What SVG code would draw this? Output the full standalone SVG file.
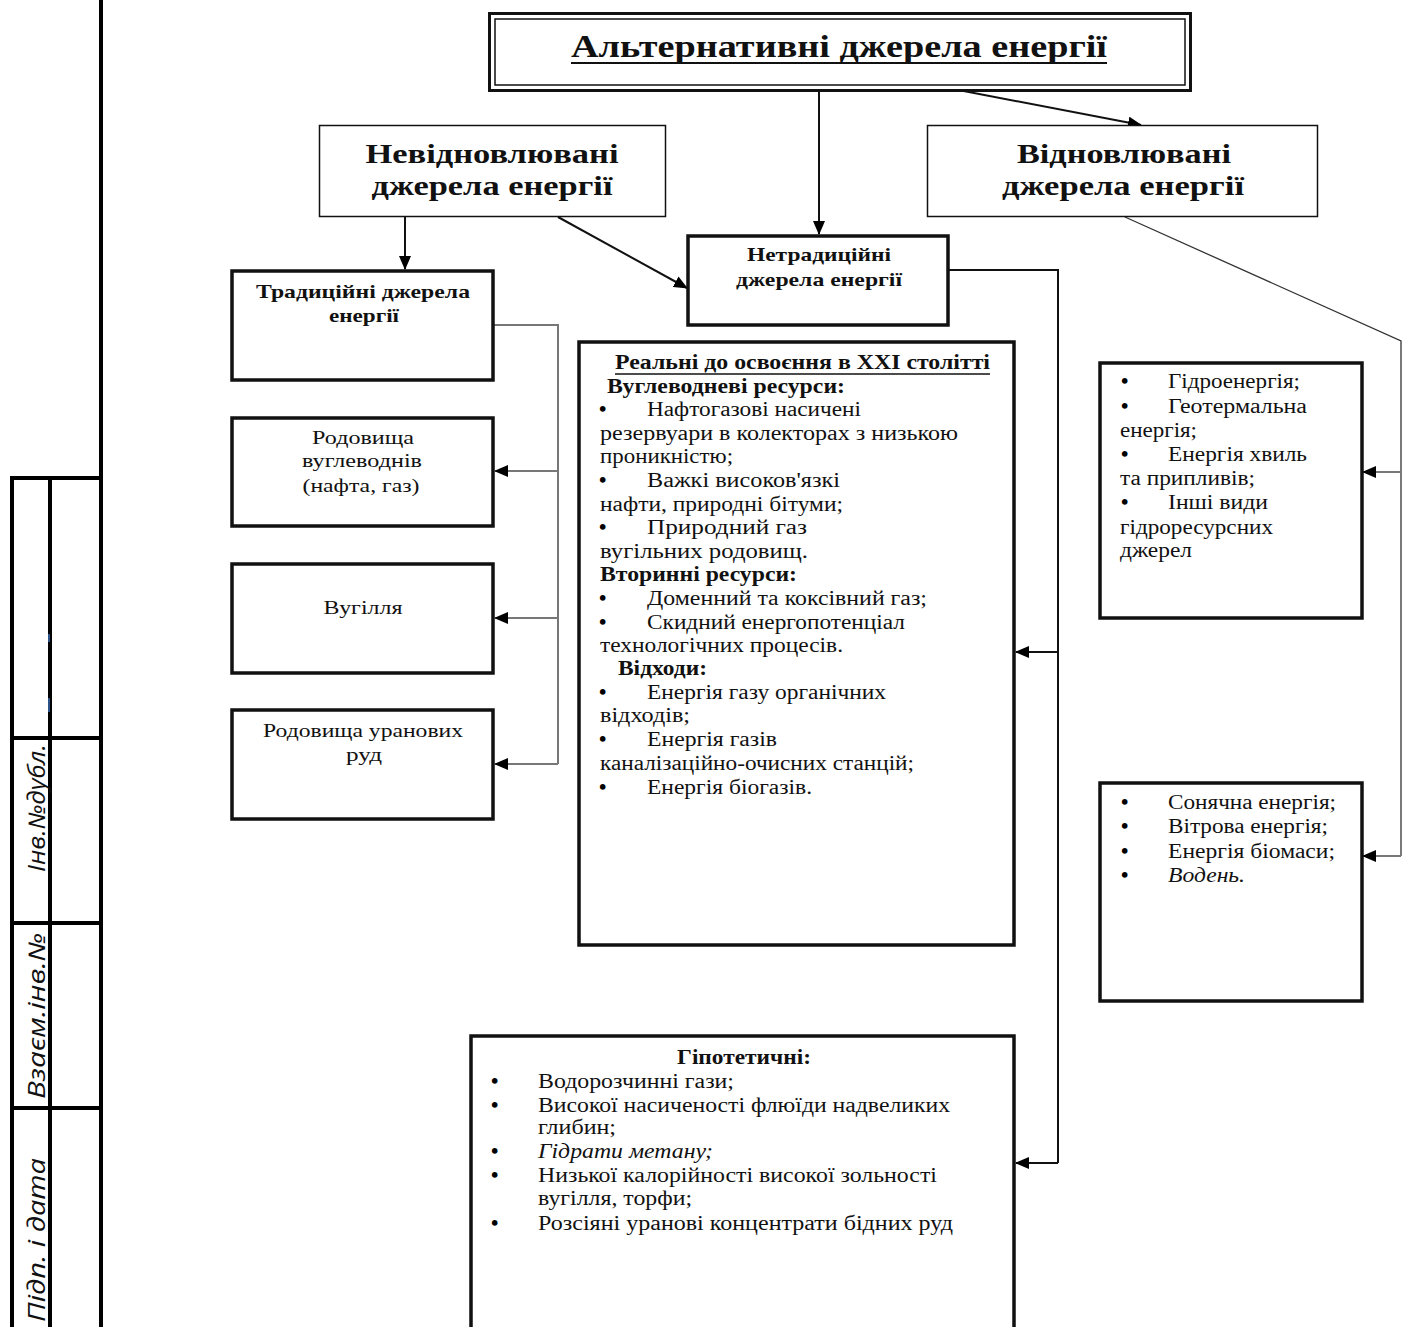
<svg xmlns="http://www.w3.org/2000/svg" width="1402" height="1327" viewBox="0 0 1402 1327">
<defs>
<marker id="ah" markerUnits="userSpaceOnUse" markerWidth="14" markerHeight="12" refX="13" refY="6" orient="auto">
<path d="M0,0 L14,6 L0,12 Z" fill="#000"/>
</marker>
<style>
.t{font-family:"Liberation Serif","Times New Roman",serif;fill:#111;}
.b{font-weight:bold;}
.i{font-style:italic;}
.bu{font-family:"Liberation Serif","Times New Roman",serif;font-size:21px;font-weight:bold;fill:#000;}
.thin{fill:#fff;stroke:#111;stroke-width:1.5;}
.thick{fill:#fff;stroke:#111;stroke-width:3.5;}
.con{fill:none;stroke:#111;stroke-width:2;}
.gray{fill:none;stroke:#777;stroke-width:2;}
.stamp{font-family:"Open Sans","DejaVu Sans",sans-serif;font-style:italic;font-size:23px;fill:#111;}
</style>
</defs>
<rect x="0" y="0" width="1402" height="1327" fill="#fff"/>

<g id="stamp">
<line x1="101" y1="0" x2="101" y2="1327" stroke="#000" stroke-width="4"/>
<rect x="12" y="478" width="89" height="860" fill="none" stroke="#000" stroke-width="4"/>
<line x1="50" y1="478" x2="50" y2="1327" stroke="#000" stroke-width="4"/>
<line x1="12" y1="738" x2="101" y2="738" stroke="#000" stroke-width="4"/>
<line x1="12" y1="923" x2="101" y2="923" stroke="#000" stroke-width="4"/>
<line x1="12" y1="1108" x2="101" y2="1108" stroke="#000" stroke-width="4"/>
<line x1="49" y1="634" x2="49" y2="642" stroke="#3a6fb5" stroke-width="1.5"/>
<line x1="49" y1="698" x2="49" y2="712" stroke="#3a6fb5" stroke-width="1.5"/>
<text class="stamp" transform="translate(45,808) rotate(-90)" text-anchor="middle" textLength="128" lengthAdjust="spacingAndGlyphs">Інв.№дубл.</text>
<text class="stamp" transform="translate(45,1016) rotate(-90)" text-anchor="middle" textLength="166" lengthAdjust="spacingAndGlyphs">Взаєм.інв.№</text>
<text class="stamp" transform="translate(45,1240) rotate(-90)" text-anchor="middle" textLength="164" lengthAdjust="spacingAndGlyphs">Підп. і дата</text>
</g>

<g id="connectors">
<line class="con" x1="819" y1="88" x2="819" y2="234" marker-end="url(#ah)"/>
<line class="con" x1="948" y1="88" x2="1141" y2="125" marker-end="url(#ah)"/>
<line class="con" x1="405" y1="216" x2="405" y2="269" marker-end="url(#ah)"/>
<line class="con" x1="558" y1="217" x2="687" y2="288" marker-end="url(#ah)"/>
<polyline class="con" points="949,270 1058,270 1058,1163"/>
<line class="con" x1="1058" y1="652" x2="1016" y2="652" marker-end="url(#ah)"/>
<line class="con" x1="1058" y1="1163" x2="1016" y2="1163" marker-end="url(#ah)"/>
<polyline class="gray" points="494,325 558,325 558,764"/>
<line class="gray" x1="558" y1="471" x2="495" y2="471" marker-end="url(#ah)"/>
<line class="gray" x1="558" y1="618" x2="495" y2="618" marker-end="url(#ah)"/>
<line class="gray" x1="558" y1="764" x2="495" y2="764" marker-end="url(#ah)"/>
<polyline fill="none" stroke="#333" stroke-width="1.3" points="1125,217 1401,341 1401,856"/>
<line class="gray" x1="1401" y1="472" x2="1363" y2="472" marker-end="url(#ah)" stroke="#444"/>
<line class="gray" x1="1401" y1="856" x2="1363" y2="856" marker-end="url(#ah)" stroke="#444"/>
</g>

<g id="title">
<rect x="489.5" y="13.5" width="701" height="77" fill="#fff" stroke="#111" stroke-width="3"/>
<rect x="495" y="19" width="690" height="66" fill="none" stroke="#111" stroke-width="1.5"/>
<text class="t b" x="839" y="57" font-size="31" text-anchor="middle" textLength="536" lengthAdjust="spacingAndGlyphs">Альтернативні джерела енергії</text>
<line x1="571" y1="63" x2="1107" y2="63" stroke="#111" stroke-width="2.2"/>
</g>

<g id="nonrenewable">
<rect class="thin" x="319.5" y="125.5" width="346" height="91"/>
<text class="t b" x="492" y="163" font-size="27" text-anchor="middle" textLength="253" lengthAdjust="spacingAndGlyphs">Невідновлювані</text>
<text class="t b" x="492" y="195" font-size="27" text-anchor="middle" textLength="241" lengthAdjust="spacingAndGlyphs">джерела енергії</text>
</g>

<g id="renewable">
<rect class="thin" x="927.5" y="125.5" width="390" height="91"/>
<text class="t b" x="1124" y="163" font-size="27" text-anchor="middle" textLength="214" lengthAdjust="spacingAndGlyphs">Відновлювані</text>
<text class="t b" x="1123" y="195" font-size="27" text-anchor="middle" textLength="242" lengthAdjust="spacingAndGlyphs">джерела енергії</text>
</g>

<g id="nontraditional">
<rect class="thick" x="688" y="236" width="260" height="89"/>
<text class="t b" x="819" y="261" font-size="19" text-anchor="middle" textLength="144" lengthAdjust="spacingAndGlyphs">Нетрадиційні</text>
<text class="t b" x="819" y="286" font-size="19" text-anchor="middle" textLength="166" lengthAdjust="spacingAndGlyphs">джерела енергії</text>
</g>

<g id="traditional">
<rect class="thick" x="232" y="271" width="261" height="109"/>
<text class="t b" x="363" y="298" font-size="19" text-anchor="middle" textLength="214" lengthAdjust="spacingAndGlyphs">Традиційні джерела</text>
<text class="t b" x="364" y="322" font-size="19" text-anchor="middle" textLength="70" lengthAdjust="spacingAndGlyphs">енергії</text>
</g>

<g id="hydrocarbons">
<rect class="thick" x="232" y="418" width="261" height="108"/>
<text class="t" x="363" y="444" font-size="19" text-anchor="middle" textLength="102" lengthAdjust="spacingAndGlyphs">Родовища</text>
<text class="t" x="362" y="467" font-size="19" text-anchor="middle" textLength="120" lengthAdjust="spacingAndGlyphs">вуглеводнів</text>
<text class="t" x="361" y="492" font-size="19" text-anchor="middle" textLength="117" lengthAdjust="spacingAndGlyphs">(нафта, газ)</text>
</g>

<g id="coal">
<rect class="thick" x="232" y="564" width="261" height="109"/>
<text class="t" x="363" y="614" font-size="19" text-anchor="middle" textLength="79" lengthAdjust="spacingAndGlyphs">Вугілля</text>
</g>

<g id="uranium">
<rect class="thick" x="232" y="710" width="261" height="109"/>
<text class="t" x="363" y="737" font-size="19" text-anchor="middle" textLength="200" lengthAdjust="spacingAndGlyphs">Родовища уранових</text>
<text class="t" x="364" y="761" font-size="19" text-anchor="middle" textLength="36" lengthAdjust="spacingAndGlyphs">руд</text>
</g>

<g id="real">
<rect class="thick" x="579" y="342" width="435" height="603"/>
<g class="t" font-size="20">
<text class="b" x="615" y="369" textLength="375" lengthAdjust="spacingAndGlyphs">Реальні до освоєння в ХХІ столітті</text>
<line x1="615" y1="374" x2="990" y2="374" stroke="#111" stroke-width="1.5"/>
<text class="b" x="607" y="393" textLength="238" lengthAdjust="spacingAndGlyphs">Вуглеводневі ресурси:</text>
<text class="bu" x="599" y="416">•</text>
<text x="647" y="416" textLength="214" lengthAdjust="spacingAndGlyphs">Нафтогазові насичені</text>
<text x="600" y="440" textLength="358" lengthAdjust="spacingAndGlyphs">резервуари в колекторах з низькою</text>
<text x="600" y="463" textLength="133" lengthAdjust="spacingAndGlyphs">проникністю;</text>
<text class="bu" x="599" y="487">•</text>
<text x="647" y="487" textLength="193" lengthAdjust="spacingAndGlyphs">Важкі високов'язкі</text>
<text x="600" y="511" textLength="243" lengthAdjust="spacingAndGlyphs">нафти, природні бітуми;</text>
<text class="bu" x="599" y="534">•</text>
<text x="647" y="534" textLength="160" lengthAdjust="spacingAndGlyphs">Природний   газ</text>
<text x="600" y="558" textLength="208" lengthAdjust="spacingAndGlyphs">вугільних  родовищ.</text>
<text class="b" x="600" y="581" textLength="197" lengthAdjust="spacingAndGlyphs">Вторинні ресурси:</text>
<text class="bu" x="599" y="605">•</text>
<text x="647" y="605" textLength="280" lengthAdjust="spacingAndGlyphs">Доменний  та коксівний газ;</text>
<text class="bu" x="599" y="629">•</text>
<text x="647" y="629" textLength="258" lengthAdjust="spacingAndGlyphs">Скидний  енергопотенціал</text>
<text x="600" y="652" textLength="243" lengthAdjust="spacingAndGlyphs">технологічних  процесів.</text>
<text class="b" x="618" y="675" textLength="89" lengthAdjust="spacingAndGlyphs">Відходи:</text>
<text class="bu" x="599" y="699">•</text>
<text x="647" y="699" textLength="239" lengthAdjust="spacingAndGlyphs">Енергія  газу органічних</text>
<text x="600" y="722" textLength="90" lengthAdjust="spacingAndGlyphs">відходів;</text>
<text class="bu" x="599" y="746">•</text>
<text x="647" y="746" textLength="130" lengthAdjust="spacingAndGlyphs">Енергія  газів</text>
<text x="600" y="770" textLength="314" lengthAdjust="spacingAndGlyphs">каналізаційно-очисних  станцій;</text>
<text class="bu" x="599" y="794">•</text>
<text x="647" y="794" textLength="165" lengthAdjust="spacingAndGlyphs">Енергія  біогазів.</text>
</g>
</g>

<g id="hydro">
<rect class="thick" x="1100" y="363" width="262" height="255"/>
<g class="t" font-size="20">
<text class="bu" x="1121" y="388">•</text>
<text x="1168" y="388" textLength="132" lengthAdjust="spacingAndGlyphs">Гідроенергія;</text>
<text class="bu" x="1121" y="413">•</text>
<text x="1168" y="413" textLength="139" lengthAdjust="spacingAndGlyphs">Геотермальна</text>
<text x="1120" y="437" textLength="77" lengthAdjust="spacingAndGlyphs">енергія;</text>
<text class="bu" x="1121" y="461">•</text>
<text x="1168" y="461" textLength="139" lengthAdjust="spacingAndGlyphs">Енергія хвиль</text>
<text x="1120" y="485" textLength="135" lengthAdjust="spacingAndGlyphs">та припливів;</text>
<text class="bu" x="1121" y="509">•</text>
<text x="1168" y="509" textLength="100" lengthAdjust="spacingAndGlyphs">Інші види</text>
<text x="1120" y="534" textLength="153" lengthAdjust="spacingAndGlyphs">гідроресурсних</text>
<text x="1120" y="557" textLength="72" lengthAdjust="spacingAndGlyphs">джерел</text>
</g>
</g>

<g id="solar">
<rect class="thick" x="1100" y="783" width="262" height="218"/>
<g class="t" font-size="20">
<text class="bu" x="1121" y="809">•</text>
<text x="1168" y="809" textLength="168" lengthAdjust="spacingAndGlyphs">Сонячна енергія;</text>
<text class="bu" x="1121" y="833">•</text>
<text x="1168" y="833" textLength="160" lengthAdjust="spacingAndGlyphs">Вітрова енергія;</text>
<text class="bu" x="1121" y="858">•</text>
<text x="1168" y="858" textLength="167" lengthAdjust="spacingAndGlyphs">Енергія біомаси;</text>
<text class="bu" x="1121" y="882">•</text>
<text class="i" x="1168" y="882" textLength="77" lengthAdjust="spacingAndGlyphs">Водень.</text>
</g>
</g>

<g id="hypothetical">
<rect class="thick" x="471" y="1036" width="543" height="310"/>
<g class="t" font-size="20">
<text class="b" x="744" y="1064" text-anchor="middle" textLength="134" lengthAdjust="spacingAndGlyphs">Гіпотетичні:</text>
<text class="bu" x="491" y="1088">•</text>
<text x="538" y="1088" textLength="196" lengthAdjust="spacingAndGlyphs">Водорозчинні гази;</text>
<text class="bu" x="491" y="1112">•</text>
<text x="538" y="1112" textLength="412" lengthAdjust="spacingAndGlyphs">Високої насиченості  флюїди надвеликих</text>
<text x="538" y="1134" textLength="78" lengthAdjust="spacingAndGlyphs">глибин;</text>
<text class="bu" x="491" y="1158">•</text>
<text class="i" x="538" y="1158" textLength="175" lengthAdjust="spacingAndGlyphs">Гідрати метану;</text>
<text class="bu" x="491" y="1182">•</text>
<text x="538" y="1182" textLength="399" lengthAdjust="spacingAndGlyphs">Низької калорійності  високої зольності</text>
<text x="538" y="1205" textLength="154" lengthAdjust="spacingAndGlyphs">вугілля, торфи;</text>
<text class="bu" x="491" y="1230">•</text>
<text x="538" y="1230" textLength="415" lengthAdjust="spacingAndGlyphs">Розсіяні уранові концентрати  бідних руд</text>
</g>
</g>
</svg>
